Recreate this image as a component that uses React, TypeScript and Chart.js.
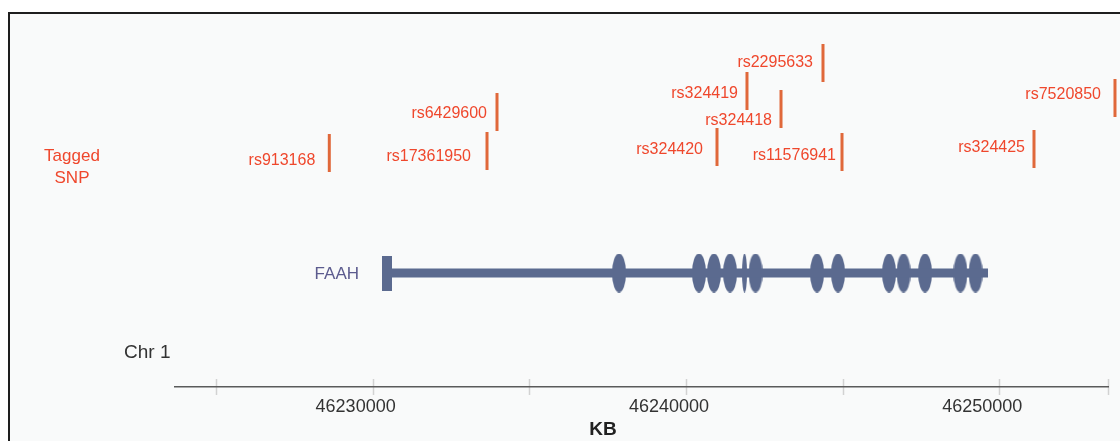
import React, { useEffect, useRef } from 'react';
import { Chart, registerables } from 'chart.js';

Chart.register(...registerables);

// ---------- data ----------
const snpNames = ['rs913168', 'rs17361950', 'rs6429600', 'rs324420', 'rs324419', 'rs324418', 'rs2295633', 'rs11576941', 'rs324425', 'rs7520850'];
const snpPositions = [46228617, 46233651, 46233970, 46240992, 46241949, 46243035, 46244375, 46244982, 46251110, 46253695];
// stacking level (height above the axis) of the foot of each SNP mark
const snpLevels = [215, 217, 256, 221, 277, 259, 305, 216, 219, 270];
const snpMarkHeight = 38;

const geneName = 'FAAH';
const geneStart = 46230459;
const geneEnd = 46249642;
const geneLevel = 114;
const exonCenters = [46237864, 46240417, 46240896, 46241407, 46241870, 46242221, 46244184, 46244854, 46246482, 46246945, 46247631, 46248764, 46249243];
const exonNarrow = [false, false, false, false, true, false, false, false, false, false, false, false, false];

const axisMin = 46223692;
const axisMax = 46253472;
const tickValues = [46225000, 46230000, 46235000, 46240000, 46245000, 46250000];
const labeledTicks = [46230000, 46240000, 46250000];
const axisTitle = 'KB';
const chromosomeLabel = 'Chr 1';
const snpTrackLabel = ['Tagged', 'SNP'];

// ---------- layout of annotation text (pixels) ----------
const snpLabelGap = [14, 16, 10, 14, 9, 9, 10, 6, 9, 14];
const snpLabelShift = [8, 6, 2, 3, 3, 12, 0, 4, -1, -3];

const FONT = '"Liberation Sans", Arial, sans-serif';
const SNP_BAR = '#e0683a';
const SNP_TEXT = '#ef472c';
const GENE = '#5b6a8f';

function makeEllipse(w: number, h: number, color: string) {
  const c = document.createElement('canvas');
  c.width = w;
  c.height = h;
  const ctx = c.getContext('2d')!;
  ctx.fillStyle = color;
  ctx.beginPath();
  ctx.ellipse(w / 2, h / 2, w / 2, h / 2, 0, 0, Math.PI * 2);
  ctx.fill();
  return c;
}
function makeRect(w: number, h: number, color: string) {
  const c = document.createElement('canvas');
  c.width = w;
  c.height = h;
  const ctx = c.getContext('2d')!;
  ctx.fillStyle = color;
  ctx.fillRect(0, 0, w, h);
  return c;
}

export default function App() {
  const ref = useRef<HTMLCanvasElement>(null);

  useEffect(() => {
    if (!ref.current) return;
    const wide = makeEllipse(14, 39, GENE);
    const narrow = makeEllipse(5, 39, GENE);
    const startBox = makeRect(10, 35, GENE);

    // listed right-to-left so that marks beyond the axis end are still drawn
    const snpData: any[] = [];
    for (let i = snpPositions.length - 1; i >= 0; i--) {
      const p = snpPositions[i];
      snpData.push({ x: p, y: snpLevels[i] });
      snpData.push({ x: p, y: snpLevels[i] + snpMarkHeight });
      snpData.push({ x: p, y: null });
    }

    const annotations = {
      id: 'annotations',
      beforeDraw(chart: any) {
        const ctx = chart.ctx;
        const xs = chart.scales.x;
        const yb = chart.chartArea.bottom;
        ctx.save();
        ctx.strokeStyle = '#d2d2d2';
        ctx.lineWidth = 1.5;
        [...tickValues, axisMax].forEach((v) => {
          const px = Math.round(xs.getPixelForValue(v)) + 0.5;
          ctx.beginPath();
          ctx.moveTo(px, yb - 8);
          ctx.lineTo(px, yb + 8);
          ctx.stroke();
        });
        ctx.restore();
      },
      afterDatasetsDraw(chart: any) {
        const ctx = chart.ctx;
        const xs = chart.scales.x;
        const ys = chart.scales.y;
        ctx.save();
        // SNP labels
        ctx.font = `16px ${FONT}`;
        ctx.fillStyle = SNP_TEXT;
        ctx.textAlign = 'right';
        ctx.textBaseline = 'middle';
        snpNames.forEach((name, i) => {
          const px = xs.getPixelForValue(snpPositions[i]);
          const mid = ys.getPixelForValue(snpLevels[i] + snpMarkHeight / 2);
          ctx.fillText(name, px - snpLabelGap[i], mid + snpLabelShift[i]);
        });
        // track label
        ctx.font = `17px ${FONT}`;
        ctx.textAlign = 'center';
        ctx.fillText(snpTrackLabel[0], 72, 156);
        ctx.fillText(snpTrackLabel[1], 72, 178);
        // gene name
        ctx.fillStyle = '#5c5b8e';
        ctx.textAlign = 'right';
        ctx.fillText(geneName, xs.getPixelForValue(geneStart) - 28, ys.getPixelForValue(geneLevel) + 1);
        // chromosome
        ctx.fillStyle = '#333';
        ctx.font = `19px ${FONT}`;
        ctx.textAlign = 'left';
        ctx.fillText(chromosomeLabel, 124, 353);
        // axis title
        ctx.font = `bold 19px ${FONT}`;
        ctx.fillStyle = '#222';
        ctx.textAlign = 'center';
        ctx.fillText(axisTitle, 603, 430);
        ctx.restore();
      },
    };

    const chart = new Chart(ref.current, {
      type: 'scatter',
      data: {
        datasets: [
          {
            label: 'SNP',
            data: snpData,
            showLine: true,
            spanGaps: false,
            borderColor: SNP_BAR,
            borderWidth: 3,
            borderCapStyle: 'butt',
            pointRadius: 0,
            clip: false,
          } as any,
          {
            label: 'gene',
            data: [
              { x: geneStart, y: geneLevel },
              { x: geneEnd, y: geneLevel },
            ],
            showLine: true,
            borderColor: GENE,
            borderWidth: 9,
            borderCapStyle: 'butt',
            pointRadius: 0,
          },
          {
            label: 'start',
            data: [{ x: geneStart, y: geneLevel }],
            pointStyle: startBox as any,
            pointRadius: 5,
          },
          {
            label: 'exons',
            data: exonCenters.map((c) => ({ x: c, y: geneLevel })),
            pointStyle: exonNarrow.map((n) => (n ? narrow : wide)) as any,
            pointRadius: 5,
          },
        ],
      },
      options: {
        responsive: false,
        maintainAspectRatio: false,
        animation: false,
        events: [],
        layout: { padding: { left: 175, right: 12, top: 13, bottom: 14.4 } },
        plugins: { legend: { display: false }, tooltip: { enabled: false } },
        scales: {
          x: {
            type: 'linear',
            min: axisMin,
            max: axisMax,
            afterBuildTicks: (scale: any) => {
              scale.ticks = [...tickValues, axisMax].map((v) => ({ value: v }));
            },
            ticks: {
              autoSkip: false,
              maxRotation: 0,
              padding: 9,
              labelOffset: -17,
              color: '#333',
              font: { family: FONT, size: 18 },
              callback: (v: any) => (labeledTicks.includes(Number(v)) ? String(v) : ''),
            },
            grid: { display: false, drawTicks: false },
            border: { display: true, color: '#5a5a5a', width: 1.5 },
          },
          y: { type: 'linear', display: false, min: 0, max: 374 },
        },
      } as any,
      plugins: [annotations],
    });
    return () => chart.destroy();
  }, []);

  return (
    <div style={{ position: 'fixed', left: 0, top: 0, width: 1120, height: 441, background: '#fff', overflow: 'hidden' }}>
      <div
        style={{
          position: 'absolute',
          left: 8,
          top: 12,
          width: 1120,
          height: 441,
          borderTop: '2px solid #1e1e1e',
          borderLeft: '2px solid #1e1e1e',
          background: '#f9fafa',
        }}
      />
      <canvas ref={ref} width={1120} height={441} style={{ position: 'absolute', left: 0, top: 0 }} />
    </div>
  );
}
